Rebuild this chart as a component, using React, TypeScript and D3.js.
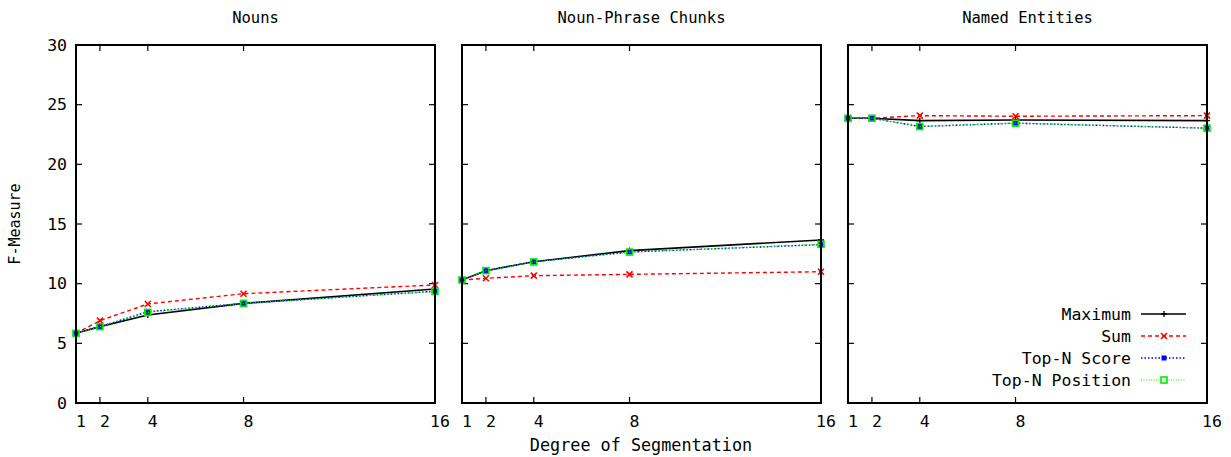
import React from "react";
import * as d3 from "d3";

const degrees = [1, 2, 4, 8, 16];
const panelTitles = ["Nouns", "Noun-Phrase Chunks", "Named Entities"];
const seriesNames = ["Maximum", "Sum", "Top-N Score", "Top-N Position"];
const yTicks = [0, 5, 10, 15, 20, 25, 30];

const nounsMax = [5.84, 6.4, 7.37, 8.35, 9.55];
const nounsSum = [5.84, 6.9, 8.3, 9.16, 9.89];
const nounsScore = [5.84, 6.4, 7.65, 8.35, 9.36];
const nounsPos = [5.84, 6.4, 7.6, 8.35, 9.36];

const npMax = [10.31, 11.09, 11.84, 12.77, 13.66];
const npSum = [10.31, 10.45, 10.67, 10.78, 11.0];
const npScore = [10.31, 11.09, 11.84, 12.65, 13.27];
const npPos = [10.31, 11.09, 11.82, 12.65, 13.3];

const neMax = [23.86, 23.86, 23.66, 23.72, 23.66];
const neSum = [23.86, 23.86, 24.08, 24.03, 24.08];
const neScore = [23.86, 23.86, 23.17, 23.45, 23.03];
const nePos = [23.86, 23.86, 23.17, 23.45, 23.03];

const panelData = [
  [nounsMax, nounsSum, nounsScore, nounsPos],
  [npMax, npSum, npScore, npPos],
  [neMax, neSum, neScore, nePos],
];

const styles = [
  { color: "#000000", dash: "none", marker: "plus", width: 1.6 },
  { color: "#ff0000", dash: "4,3", marker: "cross", width: 1.4 },
  { color: "#0000ff", dash: "1.5,2", marker: "fsquare", width: 1.4 },
  { color: "#00ee00", dash: "1,1.5", marker: "osquare", width: 1.2 },
];

const FONT = "'DejaVu Sans Mono', monospace";
const panelLefts = [76, 462, 848];
const panelWidth = 359;
const top = 45;
const bottom = 403;
const TICK = 6;

function Marker({ type, x, y, color }: { type: string; x: number; y: number; color: string }) {
  const s = 3;
  if (type === "plus")
    return (
      <path d={`M${x - s},${y}H${x + s}M${x},${y - s}V${y + s}`} stroke={color} strokeWidth={1.3} fill="none" />
    );
  if (type === "cross")
    return (
      <path d={`M${x - s},${y - s}L${x + s},${y + s}M${x - s},${y + s}L${x + s},${y - s}`} stroke={color} strokeWidth={1.6} fill="none" />
    );
  if (type === "fsquare")
    return <rect x={x - 2.5} y={y - 2.5} width={5} height={5} fill={color} />;
  return <rect x={x - 3} y={y - 3} width={6} height={6} fill="none" stroke={color} strokeWidth={1.6} />;
}

export default function App() {
  const y = d3.scaleLinear().domain([0, 30]).range([bottom, top]);
  return (
    <svg
      width={1231}
      height={457}
      style={{ position: "absolute", left: 0, top: 0, background: "#fff" }}
      fontFamily={FONT}
    >
      {panelTitles.map((title, pi) => {
        const x0 = panelLefts[pi];
        const x = d3.scaleLinear().domain([1, 16]).range([x0, x0 + panelWidth]);
        const line = d3
          .line<number>()
          .x((_, i) => x(degrees[i]))
          .y((d) => y(d));
        return (
          <g key={title}>
            <text x={x0 + panelWidth / 2} y={23} textAnchor="middle" fontSize={15.5} fill="#000">
              {title}
            </text>
            {yTicks.map((t) => (
              <g key={t}>
                <line x1={x0} x2={x0 + TICK} y1={y(t)} y2={y(t)} stroke="#000" strokeWidth={1.2} />
                <line x1={x0 + panelWidth - TICK} x2={x0 + panelWidth} y1={y(t)} y2={y(t)} stroke="#000" strokeWidth={1.2} />
                {pi === 0 && (
                  <text x={67} y={y(t)} dy="0.35em" textAnchor="end" fontSize={16.5} fill="#000">
                    {t}
                  </text>
                )}
              </g>
            ))}
            {degrees.map((d) => (
              <g key={d}>
                <line x1={x(d)} x2={x(d)} y1={bottom} y2={bottom - TICK} stroke="#000" strokeWidth={1.2} />
                <line x1={x(d)} x2={x(d)} y1={top} y2={top + TICK} stroke="#000" strokeWidth={1.2} />
                <text x={x(d) + 5} y={427} textAnchor="middle" fontSize={16.5} fill="#000">
                  {d}
                </text>
              </g>
            ))}
            {panelData[pi].map((vals, si) => (
              <g key={si}>
                <path
                  d={line(vals) || ""}
                  fill="none"
                  stroke={styles[si].color}
                  strokeWidth={styles[si].width}
                  strokeDasharray={styles[si].dash}
                />
                {vals.map((v, i) => (
                  <Marker key={i} type={styles[si].marker} x={x(degrees[i])} y={y(v)} color={styles[si].color} />
                ))}
              </g>
            ))}
            <rect x={x0} y={top} width={panelWidth} height={bottom - top} fill="none" stroke="#000" strokeWidth={2} />
          </g>
        );
      })}
      <text x={641} y={451} textAnchor="middle" fontSize={16.8} fill="#000">
        Degree of Segmentation
      </text>
      <text transform="translate(20,224) rotate(-90)" textAnchor="middle" fontSize={15} fill="#000">
        F-Measure
      </text>
      {seriesNames.map((name, si) => {
        const ly = 314 + si * 22;
        return (
          <g key={name}>
            <text x={1131} y={ly} dy="0.35em" textAnchor="end" fontSize={16.5} fill="#000">
              {name}
            </text>
            <line
              x1={1141}
              x2={1186}
              y1={ly}
              y2={ly}
              stroke={styles[si].color}
              strokeWidth={styles[si].width}
              strokeDasharray={styles[si].dash}
            />
            <Marker type={styles[si].marker} x={1164} y={ly} color={styles[si].color} />
          </g>
        );
      })}
    </svg>
  );
}
